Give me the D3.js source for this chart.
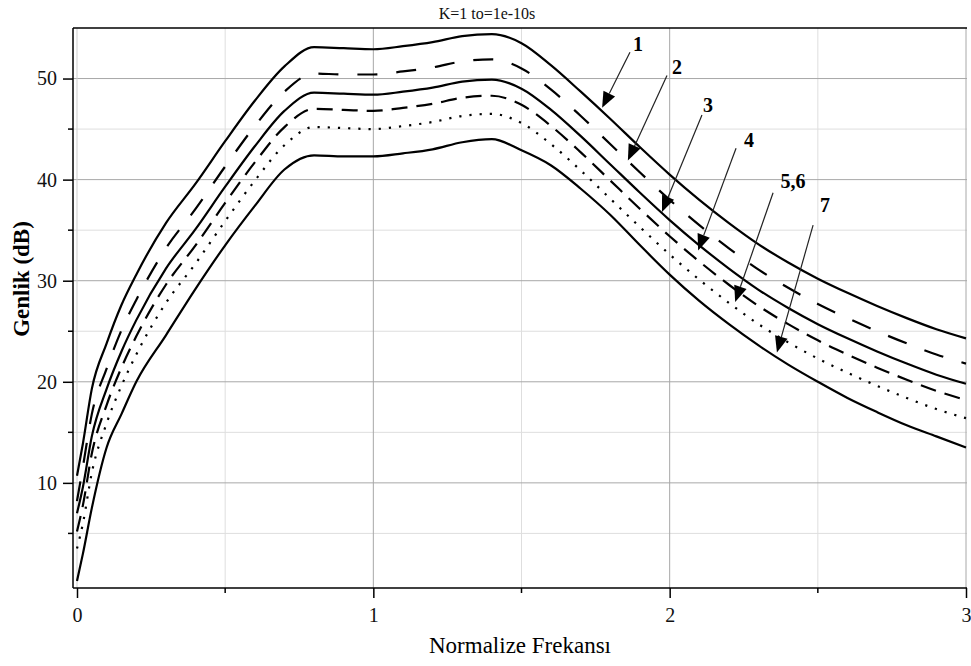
<!DOCTYPE html>
<html>
<head>
<meta charset="utf-8">
<script src="https://cdn.jsdelivr.net/npm/d3@7"></script>
<style>
  html, body { margin: 0; padding: 0; background: #fff; }
  svg { display: block; }
</style>
</head>
<body>
<svg id="chart" width="971" height="666"></svg>
<script>
// ---------- data ----------
const titleText = "K=1 to=1e-10s";
const xLabel = "Normalize Frekansı";
const yLabel = "Genlik (dB)";

const freq = [0, 0.02, 0.05, 0.1, 0.15, 0.2, 0.3, 0.4, 0.5, 0.6, 0.7, 0.8, 0.9, 1.0, 1.1, 1.2, 1.3, 1.4, 1.5, 1.6, 1.7, 1.8, 1.9, 2.0, 2.1, 2.2, 2.3, 2.4, 2.5, 2.6, 2.7, 2.8, 2.9, 3.0];

const curve1 = [10.7, 13.9, 19.3, 23.8, 27.6, 30.6, 35.7, 39.6, 43.8, 47.8, 51.2, 53.1, 53.0, 52.9, 53.2, 53.6, 54.2, 54.4, 53.5, 51.3, 48.7, 46.0, 43.2, 40.5, 38.0, 35.7, 33.6, 31.8, 30.2, 28.8, 27.5, 26.3, 25.2, 24.3];
const curve2 = [8.2, 11.6, 16.8, 21.3, 25.1, 28.1, 33.2, 37.1, 41.3, 45.3, 48.7, 50.5, 50.4, 50.4, 50.7, 51.1, 51.7, 51.9, 51.0, 48.9, 46.3, 43.5, 40.7, 38.0, 35.5, 33.2, 31.1, 29.3, 27.7, 26.3, 25.0, 23.8, 22.7, 21.8];
const curve3 = [7.0, 9.6, 14.6, 19.3, 23.0, 26.1, 31.2, 35.1, 39.3, 43.3, 46.8, 48.6, 48.5, 48.4, 48.7, 49.1, 49.7, 49.9, 49.0, 46.9, 44.3, 41.5, 38.7, 36.0, 33.5, 31.2, 29.1, 27.3, 25.7, 24.3, 23.0, 21.8, 20.7, 19.8];
const curve4 = [5.2, 7.8, 12.9, 17.7, 21.4, 24.5, 29.6, 33.5, 37.7, 41.7, 45.2, 47.0, 46.9, 46.8, 47.1, 47.5, 48.1, 48.3, 47.4, 45.3, 42.7, 39.9, 37.1, 34.4, 31.9, 29.6, 27.5, 25.7, 24.1, 22.7, 21.4, 20.2, 19.1, 18.2];
const curve56 = [3.5, 6.0, 11.0, 15.9, 19.6, 22.7, 27.8, 31.7, 35.9, 39.9, 43.4, 45.2, 45.1, 45.0, 45.3, 45.7, 46.3, 46.5, 45.6, 43.5, 40.9, 38.1, 35.3, 32.6, 30.1, 27.8, 25.7, 23.9, 22.3, 20.9, 19.6, 18.4, 17.3, 16.4];
const curve7 = [0.3, 3.0, 7.5, 13.5, 16.8, 20.0, 24.6, 29.2, 33.5, 37.4, 41.0, 42.4, 42.3, 42.3, 42.6, 43.0, 43.7, 44.0, 42.9, 41.4, 39.1, 36.5, 33.5, 30.6, 28.0, 25.7, 23.6, 21.7, 20.0, 18.4, 17.0, 15.7, 14.6, 13.5];

const seriesNames = ["1", "2", "3", "4", "5,6", "7"];
const seriesValues = [curve1, curve2, curve3, curve4, curve56, curve7];

const xTicks = [0, 1, 2, 3];
const xMinorTicks = [0.5, 1.5, 2.5];
const yTicks = [10, 20, 30, 40, 50];
const yMinorTicks = [5, 15, 25, 35, 45];

// annotation arrows (data units): label, tip, tail, label centre
const annLabels = ["1", "2", "3", "4", "5,6", "7"];
const annTipX = [1.772, 1.859, 1.974, 2.096, 2.221, 2.362];
const annTipY = [47.1, 41.9, 36.8, 33.0, 27.9, 22.9];
const annTailX = [1.866, 1.991, 2.109, 2.224, 2.349, 2.484];
const annTailY = [52.6, 50.3, 46.4, 43.1, 38.7, 35.5];
const annTextX = [1.893, 2.025, 2.129, 2.268, 2.416, 2.524];
const annTextY = [53.4, 51.1, 47.4, 43.9, 39.9, 37.5];

// ---------- drawing ----------
const svg = d3.select("#chart");
const plotLeft = 73, plotRight = 967, plotTop = 28, plotBottom = 588;

const x = d3.scaleLinear().domain([0, 3]).range([77, 966]);
const y = d3.scaleLinear().domain([-0.4, 55]).range([plotBottom, plotTop]);

const serif = "'Liberation Serif', 'Times New Roman', serif";
const narrow = "'Liberation Sans Narrow', 'Liberation Serif', serif";

// grid
const grid = svg.append("g");
grid.selectAll("line.ymin").data(yMinorTicks).join("line")
  .attr("x1", plotLeft).attr("x2", plotRight)
  .attr("y1", d => y(d)).attr("y2", d => y(d))
  .attr("stroke", "#dedede").attr("stroke-width", 1);
grid.selectAll("line.xmin").data(xMinorTicks).join("line")
  .attr("y1", plotTop).attr("y2", plotBottom)
  .attr("x1", d => x(d)).attr("x2", d => x(d))
  .attr("stroke", "#dedede").attr("stroke-width", 1);
grid.selectAll("line.ymaj").data(yTicks).join("line")
  .attr("x1", plotLeft).attr("x2", plotRight)
  .attr("y1", d => y(d)).attr("y2", d => y(d))
  .attr("stroke", "#a8a8a8").attr("stroke-width", 1);
grid.selectAll("line.xmaj").data(xTicks).join("line")
  .attr("y1", plotTop).attr("y2", plotBottom)
  .attr("x1", d => x(d)).attr("x2", d => x(d))
  .attr("stroke", d => d === 0 ? "#cfcfcf" : "#a8a8a8").attr("stroke-width", 1);

// frame top
svg.append("line").attr("x1", plotLeft).attr("x2", plotRight)
  .attr("y1", plotTop).attr("y2", plotTop)
  .attr("stroke", "#000").attr("stroke-width", 1.5);

// axes
const yAxis = d3.axisLeft(y).tickValues(yTicks).tickSize(10).tickPadding(6).tickFormat(d3.format("d"));
const yAxisG = svg.append("g").attr("transform", `translate(${plotLeft},0)`).call(yAxis);
yAxisG.select(".domain").attr("d", `M0,${plotTop}V${plotBottom}`).attr("stroke-width", 1.5);
yAxisG.selectAll(".tick line").attr("stroke-width", 1.5);
yAxisG.selectAll("text").attr("font-family", narrow).attr("font-size", 20).attr("fill", "#111");
svg.append("g").selectAll("line").data(yMinorTicks).join("line")
  .attr("x1", plotLeft - 5).attr("x2", plotLeft)
  .attr("y1", d => y(d)).attr("y2", d => y(d))
  .attr("stroke", "#000").attr("stroke-width", 1.5);

const xAxis = d3.axisBottom(x).tickValues(xTicks).tickSize(10).tickPadding(10).tickFormat(d3.format("d"));
const xAxisG = svg.append("g").attr("transform", `translate(0,${plotBottom})`).call(xAxis);
xAxisG.select(".domain").attr("d", `M${plotLeft},0H${plotRight}`).attr("stroke-width", 1.5);
xAxisG.selectAll(".tick line").attr("stroke-width", 1.5);
xAxisG.selectAll("text").attr("font-family", narrow).attr("font-size", 20).attr("fill", "#111");
svg.append("g").selectAll("line").data(xMinorTicks).join("line")
  .attr("y1", plotBottom).attr("y2", plotBottom + 5)
  .attr("x1", d => x(d)).attr("x2", d => x(d))
  .attr("stroke", "#000").attr("stroke-width", 1.5);

// curves
const dashes = [null, "20,19", null, "16,9", "2.2,8", null];
const line = d3.line().x(d => x(d[0])).y(d => y(d[1])).curve(d3.curveMonotoneX);
svg.append("g").selectAll("path").data(seriesValues).join("path")
  .attr("d", vals => line(freq.map((f, i) => [f, vals[i]])))
  .attr("fill", "none").attr("stroke", "#000").attr("stroke-width", 2.2)
  .attr("stroke-dasharray", (d, i) => dashes[i]);

// annotations
const ann = svg.append("g");
annLabels.forEach((lab, i) => {
  const tx = x(annTipX[i]), ty = y(annTipY[i]);
  const sx = x(annTailX[i]), sy = y(annTailY[i]);
  const ang = Math.atan2(ty - sy, tx - sx);
  const L = 16, hw = 6.5;
  const bx = tx - L * Math.cos(ang), by = ty - L * Math.sin(ang);
  const px = -Math.sin(ang) * hw, py = Math.cos(ang) * hw;
  ann.append("line").attr("x1", sx).attr("y1", sy).attr("x2", bx).attr("y2", by)
    .attr("stroke", "#222").attr("stroke-width", 1.2);
  ann.append("path")
    .attr("d", `M${tx},${ty}L${bx + px},${by + py}L${bx - px},${by - py}Z`)
    .attr("fill", "#000");
  ann.append("text").attr("x", x(annTextX[i])).attr("y", y(annTextY[i]))
    .attr("text-anchor", "middle").attr("dominant-baseline", "central")
    .attr("font-family", serif).attr("font-weight", "bold").attr("font-size", 20)
    .text(lab);
});

// title & labels
svg.append("text").attr("x", 487).attr("y", 19).attr("text-anchor", "middle")
  .attr("font-family", narrow).attr("font-size", 16).attr("fill", "#111").text(titleText);
svg.append("text").attr("x", (plotLeft + plotRight) / 2).attr("y", 653).attr("text-anchor", "middle")
  .attr("font-family", serif).attr("font-size", 23).attr("fill", "#000").text(xLabel);
svg.append("text").attr("transform", "translate(29,279) rotate(-90)").attr("text-anchor", "middle")
  .attr("font-family", serif).attr("font-weight", "bold").attr("font-size", 23).attr("fill", "#000").text(yLabel);
</script>
</body>
</html>
